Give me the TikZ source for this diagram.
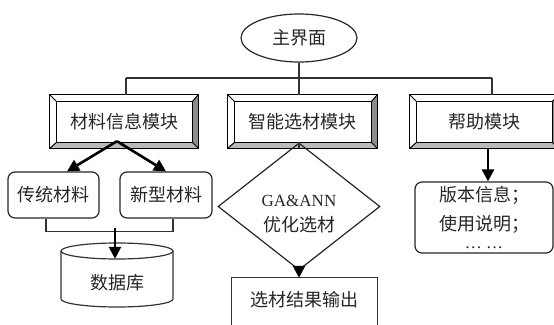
\documentclass[tikz,border=0pt]{standalone}
\usepackage{fontspec}
\setmainfont{Liberation Serif}
\newfontfamily\cjk{Noto Sans CJK SC}
\usetikzlibrary{shapes.geometric,arrows.meta,calc}

\tikzset{
  txt/.style={font=\cjk\fontsize{18}{21}\selectfont, text=black!85},
  mod/.style={txt, rectangle, minimum width=148pt, minimum height=53pt, inner sep=0pt},
  rbox/.style={txt, draw=black!85, line width=1.2pt, rounded corners=7pt, inner sep=0pt},
  conn/.style={draw=black!80, line width=1.2pt},
  bigarrow/.style={draw=black, line width=2.6pt, -{Triangle[length=12pt,width=12pt]}},
  bevlight/.style={fill=white},
  bevright/.style={fill=black!45},
  bevbottom/.style={fill=black!27},
  bevline/.style={draw=black, line width=1pt},
}

\newcommand\bevelbox[1]{%
  \coordinate (#1-iw) at ($(#1.north west)+(7,7)$);
  \coordinate (#1-ie) at ($(#1.north east)+(-6,7)$);
  \coordinate (#1-ise) at ($(#1.south east)+(-6,-6)$);
  \coordinate (#1-isw) at ($(#1.south west)+(7,-6)$);
  \fill[bevlight] (#1.north west) -- (#1.north east) -- (#1-ie) -- (#1-iw) -- cycle;
  \fill[bevlight] (#1.north west) -- (#1-iw) -- (#1-isw) -- (#1.south west) -- cycle;
  \fill[bevright] (#1.north east) -- (#1.south east) -- (#1-ise) -- (#1-ie) -- cycle;
  \fill[bevbottom] (#1.south west) -- (#1-isw) -- (#1-ise) -- (#1.south east) -- cycle;
  \draw[bevline] (#1.north west) rectangle (#1.south east);
  \draw[bevline] (#1-iw) rectangle (#1-ise);
  \draw[bevline] (#1.north west) -- (#1-iw);
  \draw[bevline] (#1.north east) -- (#1-ie);
  \draw[bevline] (#1.south east) -- (#1-ise);
  \draw[bevline] (#1.south west) -- (#1-isw);
}

\begin{document}
\begin{tikzpicture}[x=1pt, y=-1pt]
\useasboundingbox (0,0) rectangle (554,324);

% main
\node[txt, ellipse, draw=black!85, line width=1.2pt, minimum width=116pt, minimum height=48pt, inner sep=0pt] (main) at (299,38) {主界面};

% modules
\node[mod] (m1) at (124,121.5) {材料信息模块};
\node[mod, minimum width=149pt] (m2) at (302.5,121.5) {智能选材模块};
\node[mod] (m3) at (484,121.5) {帮助模块};
\bevelbox{m1}
\bevelbox{m2}
\bevelbox{m3}

% bus
\coordinate (j1) at (126,78);
\coordinate (j2) at (299,78);
\coordinate (j3) at (492,78);
\draw[conn] (j1) -- (j3);
\draw[conn] (main.south) -- (j2);
\draw[conn] (j1) -- (j1 |- m1.north);
\draw[conn] (j2) -- (j2 |- m2.north);
\draw[conn] (j3) -- (j3 |- m3.north);

% material branch
\node[rbox, minimum width=91pt, minimum height=46pt] (a1) at (53.5,195) {传统材料};
\node[rbox, minimum width=92pt, minimum height=46pt] (a2) at (166,195) {新型材料};
\draw[bigarrow] ($(m1.south)+(-7,-7)$) -- ($(a1.north)+(13.5,0)$);
\draw[bigarrow] ($(m1.south)+(-7,-7)$) -- (a2.north);
\draw[conn] ($(a1.south)+(-7.5,0)$) -- ++(0,13) -| ($(a2.south)+(7,0)$);

% database
\draw[conn, fill=white] (61,251) -- (61,299) arc[start angle=180, end angle=0, x radius=56, y radius=8] -- (173,251);
\draw[conn] (117,251) ellipse[x radius=56, y radius=8];
\node[txt, minimum width=112pt, minimum height=48pt, inner sep=0pt] (db) at (117,283) {数据库};
\coordinate (mj) at (115,228);
\draw[bigarrow] (mj) -- (db.north -| mj);

% GA branch
\node[txt, diamond, draw=black!85, line width=1.2pt, minimum width=162pt, minimum height=93pt, inner sep=0pt, align=center, font=\cjk\fontsize{18}{25}\selectfont] (ga) at (299,206.5) {{\rmfamily\fontsize{17}{25}\selectfont\rule{0pt}{26pt}GA\&ANN}\\优化选材};
\draw[conn] (m2.south -| ga.north) -- (ga.north);
\node[txt, minimum width=145pt, minimum height=44pt, inner sep=0pt] (out) at (304.5,300) {选材结果输出};
\draw[conn] ($(out.south west)+(0,15)$) -- (out.north west) -- (out.north east) -- ($(out.south east)+(0,15)$);
\draw[bigarrow] (ga.south) -- (ga.south |- out.north);

% help branch
\node[rbox, minimum width=138pt, minimum height=71pt, align=center, font=\cjk\fontsize{18}{29}\selectfont] (hb) at (484,217.5) {版本信息；\\使用说明；\\[-11pt]{\rmfamily\fontsize{17}{20}\selectfont … …}};
\draw[bigarrow] ($(m3.south)+(4,0)$) -- ($(hb.north)+(4,0)$);
\end{tikzpicture}
\end{document}
